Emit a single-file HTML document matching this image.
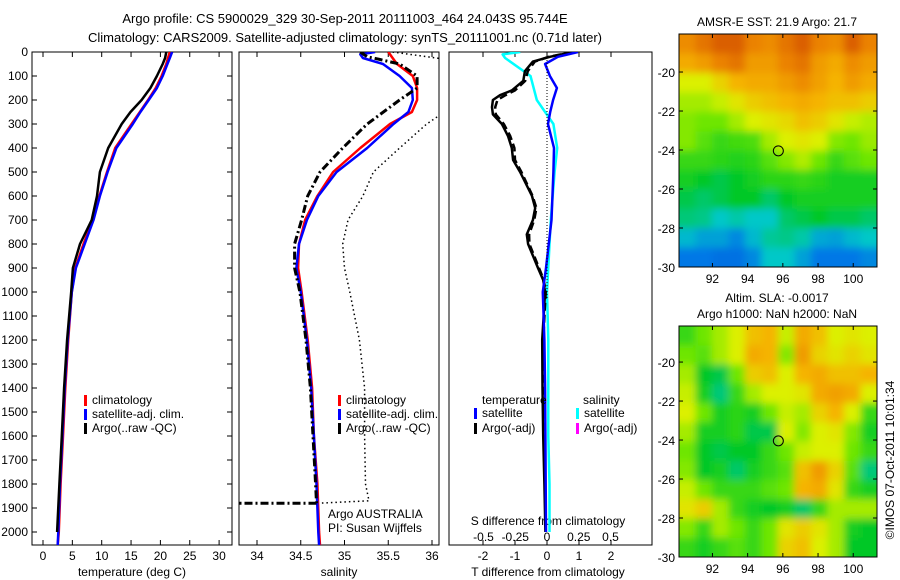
<!DOCTYPE html>
<html><head><meta charset="utf-8"><style>
html,body{margin:0;padding:0;background:#fff;}
svg{display:block;font-family:"Liberation Sans",sans-serif;font-size:12px;}
</style></head><body>
<svg id="c" width="900" height="580" viewBox="0 0 900 580">
<defs>
<clipPath id="cp1"><rect x="32" y="52" width="200" height="493"/></clipPath>
<clipPath id="cp2"><rect x="239" y="52" width="200" height="493"/></clipPath>
<clipPath id="cp3"><rect x="449" y="52" width="203" height="493"/></clipPath>
<clipPath id="cm1"><rect x="679" y="34" width="198" height="233"/></clipPath>
<clipPath id="cm2"><rect x="679" y="326" width="198" height="231"/></clipPath>
<filter id="bl" x="-5%" y="-5%" width="110%" height="110%"><feGaussianBlur stdDeviation="4"/></filter>
</defs>
<text x="345" y="23" text-anchor="middle" font-size="13">Argo profile: CS 5900029_329 30-Sep-2011 20111003_464 24.043S 95.744E</text>
<text x="345" y="42" text-anchor="middle" font-size="13">Climatology: CARS2009. Satellite-adjusted climatology: synTS_20111001.nc (0.71d later)</text>
<text x="777" y="26" text-anchor="middle">AMSR-E SST: 21.9 Argo: 21.7</text>
<text x="777" y="302" text-anchor="middle">Altim. SLA: -0.0017</text>
<text x="777" y="318" text-anchor="middle">Argo h1000: NaN h2000: NaN</text>
<text transform="translate(894,460) rotate(-90)" text-anchor="middle">©IMOS 07-Oct-2011 10:01:34</text>
<g id="g"></g>
</svg>
<script>
// ---- profile data ----
const tDepth = [0,25,50,100,150,200,250,300,400,500,600,700,800,900,1000,1200,1400,1600,1800,2000,2055];
const tClim  = [21.6,21.3,21.0,20.2,19.2,17.9,16.5,15.1,12.3,10.9,9.6,8.5,6.9,5.5,4.9,4.3,3.8,3.4,3.0,2.7,2.5];
const tSat   = [22.0,21.6,21.2,20.4,19.4,18.0,16.6,15.3,12.5,11.0,9.7,8.6,7.1,5.6,4.9,4.2,3.7,3.3,2.9,2.6,2.5];
const tArgoDepth = [0,25,50,100,150,200,250,300,400,500,600,700,800,900,1000,1200,1400,1600,1800,2000];
const tArgo  = [21.0,20.8,20.4,19.4,18.3,16.8,14.9,13.4,11.1,9.7,9.2,8.3,6.3,5.1,4.8,4.1,3.6,3.2,2.8,2.4];

const sDepth = [0,10,25,50,100,150,200,250,300,400,500,600,700,800,900,1000,1200,1400,1600,1800,2000,2055];
const sClim  = [35.50,35.52,35.55,35.60,35.78,35.83,35.83,35.77,35.52,35.18,34.87,34.69,34.55,34.48,34.47,34.51,34.58,34.63,34.65,34.69,34.71,34.72];
const sSat   = [35.35,35.18,35.21,35.44,35.63,35.77,35.78,35.73,35.56,35.26,34.91,34.70,34.57,34.48,34.45,34.50,34.57,34.62,34.65,34.68,34.70,34.71];
const sArgoDepth = [0,20,25,50,100,150,200,300,400,500,600,700,800,900,1000,1200,1400,1600,1800,1880];
const sArgo  = [35.18,35.26,35.33,35.63,35.83,35.83,35.63,35.26,34.98,34.72,34.58,34.51,34.43,34.43,34.49,34.56,34.61,34.64,34.67,34.68];
const sRawDepth = [260,300,400,500,600,700,800,900,1000,1200,1400,1600,1800,1870,1880];
const sRaw   = [36.10,35.94,35.63,35.33,35.21,35.04,34.98,35.00,35.06,35.17,35.23,35.23,35.24,35.28,34.70];

const dDepth = [0,20,40,80,120,160,180,200,230,260,300,350,400,450,500,600,650,700,760,800,900,950,1000,1200,1400,1600,1800,2000];
const dTArgo = [0.82,0.09,-0.44,-0.69,-0.74,-1.10,-1.47,-1.69,-1.72,-1.69,-1.41,-1.22,-1.10,-1.06,-0.84,-0.47,-0.37,-0.44,-0.63,-0.59,-0.28,-0.12,-0.06,-0.15,-0.14,-0.12,-0.08,-0.05];
const dTArgo2= [0.80,0.05,-0.38,-0.60,-0.68,-1.00,-1.30,-1.55,-1.62,-1.60,-1.35,-1.15,-1.02,-1.00,-0.80,-0.45,-0.33,-0.40,-0.56,-0.55,-0.25,-0.10,-0.04,-0.12,-0.12,-0.10,-0.06,-0.04];
const dSatDepth = [0,20,50,100,150,200,250,300,400,500,700,900,1000,1200,1400,1600,1800,2000];
const dTSat  = [0.97,0.34,-0.06,0.09,0.31,0.19,0.10,0.03,0.22,0.20,0.14,-0.03,-0.13,-0.08,-0.06,-0.05,-0.04,-0.03];
const dSDepth = [0,10,25,100,200,300,400,500,700,1000,1200,1400,1600,1800,2000];
const dSSat  = [-0.21,-0.35,-0.33,-0.13,-0.08,0.05,0.08,0.06,0.03,0.00,0.01,0.01,0.01,0.02,0.02];

// ---- map data (colour index 0..1) ----
const mapLons = [90.1,101.35];
const mapLatTop1 = -18.05, mapLatTop2 = -18.15, mapLatBot = -30;
const sstGrid = [
[0.78,0.82,0.85,0.85,0.80,0.78,0.82,0.85,0.80,0.78,0.85,0.80],
[0.72,0.75,0.80,0.82,0.75,0.75,0.80,0.82,0.75,0.72,0.78,0.75],
[0.60,0.60,0.65,0.70,0.72,0.72,0.75,0.78,0.74,0.70,0.75,0.72],
[0.55,0.55,0.58,0.62,0.66,0.68,0.70,0.72,0.70,0.68,0.68,0.66],
[0.52,0.50,0.50,0.55,0.60,0.62,0.64,0.68,0.66,0.62,0.58,0.56],
[0.52,0.48,0.45,0.46,0.47,0.55,0.60,0.62,0.60,0.52,0.50,0.54],
[0.45,0.45,0.44,0.43,0.44,0.48,0.52,0.56,0.50,0.45,0.48,0.50],
[0.42,0.40,0.38,0.40,0.42,0.44,0.44,0.45,0.44,0.42,0.42,0.42],
[0.38,0.36,0.38,0.40,0.40,0.36,0.40,0.42,0.42,0.42,0.42,0.42],
[0.35,0.34,0.30,0.32,0.30,0.30,0.36,0.38,0.40,0.38,0.38,0.36],
[0.28,0.25,0.25,0.22,0.28,0.33,0.34,0.32,0.26,0.25,0.28,0.30],
[0.20,0.20,0.18,0.18,0.22,0.30,0.30,0.25,0.20,0.20,0.20,0.22]];
const slaGrid = [
[0.45,0.50,0.55,0.60,0.68,0.70,0.58,0.72,0.68,0.60,0.62,0.60],
[0.50,0.48,0.55,0.60,0.72,0.70,0.52,0.75,0.65,0.62,0.65,0.62],
[0.55,0.40,0.38,0.50,0.66,0.68,0.60,0.70,0.72,0.68,0.68,0.70],
[0.58,0.42,0.35,0.45,0.55,0.60,0.60,0.62,0.72,0.74,0.72,0.60],
[0.60,0.50,0.42,0.44,0.42,0.50,0.58,0.55,0.65,0.70,0.60,0.45],
[0.55,0.42,0.42,0.44,0.38,0.38,0.60,0.52,0.60,0.62,0.52,0.42],
[0.50,0.40,0.38,0.40,0.40,0.45,0.50,0.58,0.60,0.60,0.50,0.45],
[0.52,0.40,0.42,0.36,0.42,0.45,0.48,0.68,0.75,0.65,0.48,0.35],
[0.58,0.50,0.45,0.45,0.45,0.48,0.50,0.70,0.72,0.62,0.45,0.42],
[0.62,0.66,0.55,0.45,0.42,0.40,0.42,0.36,0.45,0.55,0.55,0.55],
[0.52,0.45,0.55,0.50,0.45,0.50,0.62,0.66,0.62,0.55,0.42,0.40],
[0.45,0.42,0.45,0.48,0.45,0.50,0.65,0.68,0.60,0.55,0.40,0.40]];
const argoLon = 95.744, argoLat = -24.043;

const NS='http://www.w3.org/2000/svg';
const G=document.getElementById('g');
function mk(tag,at,parent){const e=document.createElementNS(NS,tag);for(const k in at)e.setAttribute(k,at[k]);(parent||G).appendChild(e);return e;}
function txt(x,y,s,anchor,parent){const e=mk('text',{x:x,y:y,'text-anchor':anchor||'start'},parent);e.textContent=s;return e;}

const yD = d => 52 + d*0.24;
const xT = t => 43 + t*5.87;
const xS = s => 257 + (s-34)*87.5;
const xdT = v => 547 + v*32;
const xdS = v => 547 + v*127;

function line(xs,ds,xf,color,w,dash,clip,name){
  const pts=xs.map((v,i)=>xf(v).toFixed(1)+','+yD(ds[i]).toFixed(1)).join(' ');
  const at={points:pts,fill:'none',stroke:color,'stroke-width':w,'clip-path':'url(#'+clip+')','stroke-linejoin':'round'};
  if(dash)at['stroke-dasharray']=dash;
  const e=mk('polyline',at);
  
  
}

function frame(x,w,name){
  const r=mk('rect',{x:x,y:52,width:w,height:493,fill:'none',stroke:'#000','stroke-width':1});
  
  
}
frame(32,200,'temperature-panel');
frame(239,200,'salinity-panel');
frame(449,203,'difference-panel');

for(let d=0; d<=2000; d+=100){
  const y=yD(d);
  mk('line',{x1:32,y1:y,x2:37,y2:y,stroke:'#000'});
  mk('line',{x1:227,y1:y,x2:232,y2:y,stroke:'#000'});
  const t=txt(28,y+4,String(d),'end');
  
  
}
for(let v=0; v<=30; v+=5){
  const x=xT(v);
  mk('line',{x1:x,y1:52,x2:x,y2:57,stroke:'#000'});
  mk('line',{x1:x,y1:540,x2:x,y2:545,stroke:'#000'});
  const t=txt(x,560,String(v),'middle');
  
  
}
const sTicks=['34','34.5','35','35.5','36'];
sTicks.forEach(s=>{
  const x=xS(parseFloat(s));
  mk('line',{x1:x,y1:52,x2:x,y2:57,stroke:'#000'});
  mk('line',{x1:x,y1:540,x2:x,y2:545,stroke:'#000'});
  const t=txt(x,560,s,'middle');
  
  
});
const dtTicks=['-2','-1','0','1','2'];
dtTicks.forEach(s=>{
  const x=xdT(parseFloat(s));
  mk('line',{x1:x,y1:52,x2:x,y2:57,stroke:'#000'});
  mk('line',{x1:x,y1:540,x2:x,y2:545,stroke:'#000'});
  const t=txt(x,560,s,'middle');
  
  
});
const dsTicks=['-0.5','-0.25','0','0.25','0.5'];
dsTicks.forEach(s=>{
  const t=txt(xdS(parseFloat(s)),541,s,'middle');
  
  
});
[[132,576,'temperature (deg C)','temperature-axis-title'],[339,576,'salinity','salinity-axis-title'],[548,576,'T difference from climatology','t-diff-axis-title'],[548,525,'S difference from climatology','s-diff-axis-title']].forEach(a=>{
  const t=txt(a[0],a[1],a[2],'middle');
  
  
});

line(tClim,tDepth,xT,'#f00',2.5,null,'cp1','temperature-climatology-line');
line(tSat,tDepth,xT,'#00f',2.5,null,'cp1','temperature-satellite-line');
line(tArgo,tArgoDepth,xT,'#000',2.5,null,'cp1','temperature-argo-line');

line(sRaw,sRawDepth,xS,'#000',1.5,'1.5,3','cp2','salinity-argo-raw-line');
line([35.55,36.15],[0,30],xS,'#000',1.5,'1.5,3','cp2','salinity-argo-raw-top');
line(sClim,sDepth,xS,'#f00',2.5,null,'cp2','salinity-climatology-line');
line(sSat,sDepth,xS,'#00f',2.5,null,'cp2','salinity-satellite-line');
line(sArgo,sArgoDepth,xS,'#000',3,'8,3,2,3','cp2','salinity-argo-line');
line([34.68,33.7],[1880,1880],xS,'#000',3,'8,3,2,3','cp2','salinity-argo-bottom');

line(dSSat,dSDepth,xdS,'#0ff',2.5,null,'cp3','s-diff-satellite-line');
line(dTArgo2,dDepth,xdT,'#000',2.5,'8,4','cp3','t-diff-argo-adj-line');
line(dTArgo,dDepth,xdT,'#000',2.5,null,'cp3','t-diff-argo-line');
line(dTSat,dSatDepth,xdT,'#00f',2.5,null,'cp3','t-diff-satellite-line');
mk('line',{x1:547,y1:60,x2:547,y2:300,stroke:'#000','stroke-dasharray':'1,2'});

function leg(x,y,c,label,name){
  const r=mk('rect',{x:x,y:y-9,width:3,height:11,fill:c});
  
  
  const t=txt(x+8,y,label);
  
  
}
leg(84,404,'#f00','climatology','legend-climatology-1');
leg(84,418,'#00f','satellite-adj. clim.','legend-satellite-1');
leg(84,432,'#000','Argo(..raw -QC)','legend-argo-1');
leg(338,404,'#f00','climatology','legend-climatology-2');
leg(338,418,'#00f','satellite-adj. clim.','legend-satellite-2');
leg(338,432,'#000','Argo(..raw -QC)','legend-argo-2');
let lt=txt(482,404,'temperature');  
lt=txt(583,404,'salinity');  
leg(474,417,'#00f','satellite','legend-t-satellite');
leg(474,432,'#000','Argo(-adj)','legend-t-argo');
leg(576,417,'#0ff','satellite','legend-s-satellite');
leg(576,432,'#f0f','Argo(-adj)','legend-s-argo');
lt=txt(328,518,'Argo AUSTRALIA');  
lt=txt(328,532,'PI: Susan Wijffels');  

// ---- maps ----
const cmapStops=[[0,0,50,190],[0.2,0,120,230],[0.3,0,200,200],[0.4,0,200,40],[0.5,110,230,0],[0.6,220,240,0],[0.7,245,180,0],[0.8,235,130,0],[0.9,200,60,0],[1,160,20,0]];
function cmap(v){
  v=Math.max(0,Math.min(1,v));
  for(let i=1;i<cmapStops.length;i++){
    const a=cmapStops[i-1],b=cmapStops[i];
    if(v<=b[0]){const f=(v-a[0])/(b[0]-a[0]);
      return 'rgb('+[1,2,3].map(k=>Math.round(a[k]+(b[k]-a[k])*f)).join(',')+')';}
  }
  return 'rgb(160,20,0)';
}
function drawMap(grid,top,bottom,latTop,clip,name){
  const x0=679,x1=877;
  const lonX=lon=>x0+(lon-mapLons[0])*(x1-x0)/(mapLons[1]-mapLons[0]);
  const latY=lat=>top+(latTop-lat)*(bottom-top)/(latTop-mapLatBot);
  const rows=grid.length, cols=grid[0].length;
  const cg=mk('g',{'clip-path':'url(#'+clip+')'});
  
  
  const bg=mk('g',{filter:'url(#bl)'},cg);
  const cw=(x1-x0)/cols, ch=(bottom-top)/rows;
  for(let i=-1;i<=rows;i++)for(let j=-1;j<=cols;j++){
    const ii=Math.max(0,Math.min(rows-1,i)), jj=Math.max(0,Math.min(cols-1,j));
    const r=mk('rect',{x:x0+j*cw,y:top+i*ch,width:cw+0.6,height:ch+0.6,fill:cmap(grid[ii][jj])},bg);
    
    
  }
  const fr=mk('rect',{x:x0,y:top,width:x1-x0,height:bottom-top,fill:'none',stroke:'#000'});
  
  
  for(let lon=92;lon<=100;lon+=2){
    const x=lonX(lon);
    mk('line',{x1:x,y1:top,x2:x,y2:top+4,stroke:'#000'});
    mk('line',{x1:x,y1:bottom-4,x2:x,y2:bottom,stroke:'#000'});
    const t=txt(x,bottom+16,String(lon),'middle');
    
    
  }
  for(let lat=-20;lat>=-30;lat-=2){
    const y=latY(lat);
    mk('line',{x1:x0,y1:y,x2:x0+4,y2:y,stroke:'#000'});
    mk('line',{x1:x1-4,y1:y,x2:x1,y2:y,stroke:'#000'});
    const t=txt(x0-4,y+5,String(lat),'end');
    
    
  }
  const c=mk('circle',{cx:lonX(argoLon),cy:latY(argoLat),r:5,fill:'none',stroke:'#000','stroke-width':1});
  
  
}
drawMap(sstGrid,34,267,mapLatTop1,'cm1','sst-map');
drawMap(slaGrid,326,557,mapLatTop2,'cm2','sla-map');
</script>
</body></html>
